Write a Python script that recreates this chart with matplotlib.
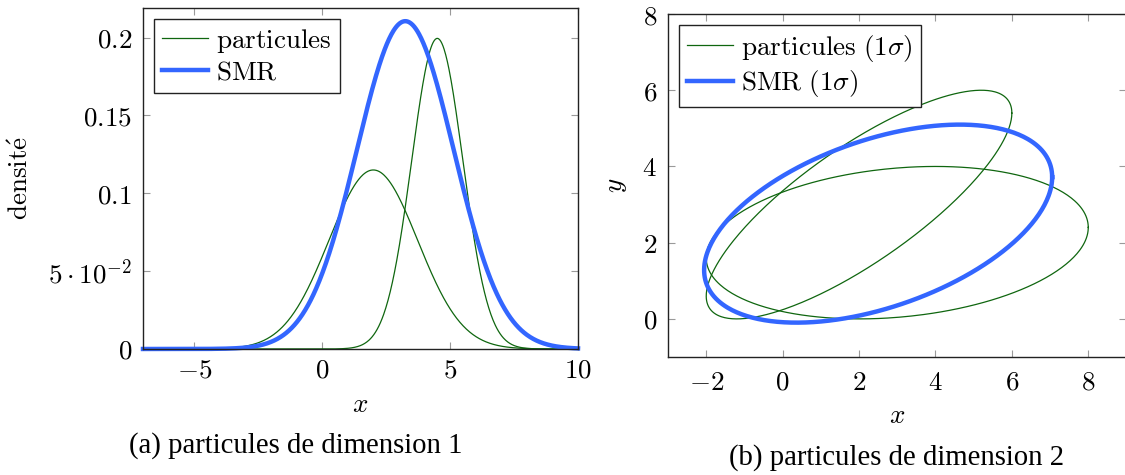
import numpy as np
import matplotlib
matplotlib.use("Agg")
import matplotlib.pyplot as plt

# 1D particles: weight, mean, std
p1_weights = [0.5, 0.5]
p1_means = [2.0, 4.5]
p1_stds = [1.735, 1.0]
# SMR (moment matched) gaussian
smr1_mean = 3.25
smr1_std = 1.895

# 2D particles: means and covariances (1 sigma ellipses)
p2_means = [[3.0, 2.0], [2.0, 3.0]]
p2_covs = [[[25.0, 2.0], [2.0, 4.0]],
           [[16.0, 9.6], [9.6, 9.0]]]
smr2_mean = [2.5, 2.5]
smr2_cov = [[20.75, 5.55], [5.55, 6.75]]

xticks_a = [-5, 0, 5, 10]
xlabels_a = ["$-5$", "$0$", "$5$", "$10$"]
yticks_a = [0, 0.05, 0.1, 0.15, 0.2]
ylabels_a = ["$0$", r"$5\cdot10^{-2}$", "$0.1$", "$0.15$", "$0.2$"]
xticks_b = [-2, 0, 2, 4, 6, 8]
xlabels_b = ["$-2$", "$0$", "$2$", "$4$", "$6$", "$8$"]
yticks_b = [0, 2, 4, 6, 8]
ylabels_b = ["$0$", "$2$", "$4$", "$6$", "$8$"]

GREEN = "#0f660f"
BLUE = "#3366ff"
FS = 19.5

plt.rcParams["mathtext.fontset"] = "cm"


def gauss(x, w, m, s):
    return w * np.exp(-0.5 * ((x - m) / s) ** 2) / (s * np.sqrt(2 * np.pi))


def ellipse(mean, cov):
    t = np.linspace(0, 2 * np.pi, 400)
    L = np.linalg.cholesky(np.array(cov))
    pts = L @ np.vstack([np.cos(t), np.sin(t)])
    return pts[0] + mean[0], pts[1] + mean[1]


def style(ax):
    ax.tick_params(direction="in", length=5, width=0.8, color="#9a9a9a",
                   top=True, right=True, labelsize=FS)
    for sp in ax.spines.values():
        sp.set_linewidth(1.0)
        sp.set_color("#222222")


def add_legend(ax):
    leg = ax.legend(loc="upper left", fontsize=FS, fancybox=False,
                    edgecolor="#222222", framealpha=1, handlelength=1.7,
                    borderaxespad=0.4, labelspacing=0.15, borderpad=0.3,
                    handletextpad=0.3)
    leg.get_frame().set_linewidth(1.0)


fig = plt.figure(figsize=(11.25, 4.75), dpi=100)

# (a) dimension 1
ax1 = fig.add_axes([0.1271, 0.2653, 0.3867, 0.7179])
x = np.linspace(-7, 10, 800)
for i, (w, m, s) in enumerate(zip(p1_weights, p1_means, p1_stds)):
    ax1.plot(x, gauss(x, w, m, s), color=GREEN, lw=0.9,
             label=r"$\mathrm{particules}$" if i == 0 else None)
ax1.plot(x, gauss(x, 1.0, smr1_mean, smr1_std), color=BLUE, lw=3.2,
         label=r"$\mathrm{SMR}$", clip_on=False)
ax1.set_xlim(-7, 10)
ax1.set_ylim(0, 0.219)
ax1.set_xticks(xticks_a, xlabels_a)
ax1.set_yticks(yticks_a, ylabels_a)
style(ax1)
ax1.tick_params(axis="x", pad=6)
ax1.tick_params(axis="y", pad=8)
ax1.set_xlabel("$x$", fontsize=FS)
ax1.set_ylabel(r"$\mathrm{densit\acute{e}}$", fontsize=FS)
ax1.xaxis.set_label_coords(0.5, -0.125)
ax1.yaxis.set_label_coords(-0.25, 0.5)
add_legend(ax1)
fig.text(0.263, 0.063, "(a) particules de dimension 1", ha="center",
         va="center", fontsize=20.7, family="Liberation Serif")

# (b) dimension 2
ax2 = fig.add_axes([0.5938, 0.2484, 0.4075, 0.7221])
for i, (m, c) in enumerate(zip(p2_means, p2_covs)):
    ex, ey = ellipse(m, c)
    ax2.plot(ex, ey, color=GREEN, lw=0.9,
             label=r"$\mathrm{particules\ (1\sigma)}$" if i == 0 else None)
ex, ey = ellipse(smr2_mean, smr2_cov)
ax2.plot(ex, ey, color=BLUE, lw=3.2, label=r"$\mathrm{SMR\ (1\sigma)}$")
ax2.set_xlim(-3, 9)
ax2.set_ylim(-1, 8)
ax2.set_xticks(xticks_b, xlabels_b)
ax2.set_yticks(yticks_b, ylabels_b)
style(ax2)
ax2.tick_params(axis="x", pad=9)
ax2.tick_params(axis="y", pad=8)
ax2.set_xlabel("$x$", fontsize=FS)
ax2.set_ylabel("$y$", fontsize=FS)
ax2.xaxis.set_label_coords(0.5, -0.135)
ax2.yaxis.set_label_coords(-0.085, 0.5)
add_legend(ax2)
fig.text(0.797, 0.036, "(b) particules de dimension 2", ha="center",
         va="center", fontsize=20.7, family="Liberation Serif")

fig.savefig("out.png", dpi=100)
plt.close(fig)
